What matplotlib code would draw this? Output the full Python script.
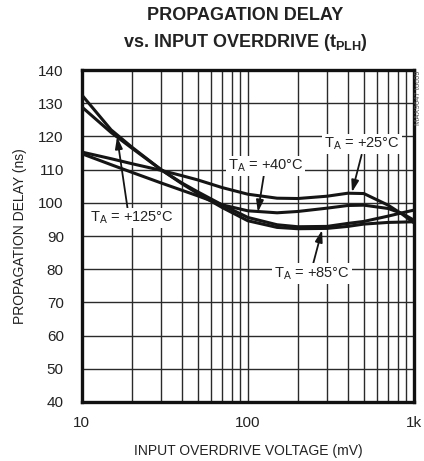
import matplotlib.pyplot as plt
from matplotlib.ticker import FixedLocator, NullFormatter

# overdrive voltage (mV)
overdrive = [10, 15, 20, 30, 40, 50, 70, 100, 150, 200, 300, 400, 500, 700, 850, 1000]

delay_25 = [115.3, 113.3, 111.8, 109.8, 108.2, 106.9, 104.6, 102.6, 101.4, 101.3,
            102.0, 102.9, 102.8, 99.3, 96.6, 94.0]
delay_40 = [114.8, 111.5, 109.2, 106.0, 103.8, 102.1, 99.4, 97.6, 97.0, 97.4,
            98.4, 99.2, 99.3, 98.3, 96.8, 94.8]
delay_125 = [132.5, 122.0, 116.8, 110.0, 106.0, 103.3, 99.4, 95.6, 93.4, 92.8,
             92.9, 93.8, 94.4, 96.0, 97.0, 97.8]
delay_85 = [128.9, 121.2, 116.5, 110.0, 105.8, 102.8, 98.6, 94.6, 92.6, 92.2,
            92.3, 92.9, 93.6, 94.1, 94.2, 94.3]

y_ticks = [40, 50, 60, 70, 80, 90, 100, 110, 120, 130, 140]
x_ticks = [10, 100, 1000]
x_tick_labels = ["10", "100", "1k"]

# label text, text position, arrow tail, arrow tip
labels = [
    ("+125°C", (20, 95.4), (18.9, 98.0), (16.3, 119.9)),
    ("+40°C", (128, 111.1), (126, 109.5), (115, 97.2)),
    ("+25°C", (485, 117.7), (485, 114.5), (424, 103.2)),
    ("+85°C", (243, 78.6), (247, 81.5), (280, 91.8)),
]

plt.rcParams["font.family"] = ["Liberation Sans", "DejaVu Sans"]
plt.rcParams["mathtext.fontset"] = "custom"
plt.rcParams["mathtext.rm"] = "Liberation Sans"
plt.rcParams["mathtext.bf"] = "Liberation Sans:bold"

fig = plt.figure(figsize=(4.24, 4.61), dpi=100)
ax = fig.add_axes([0.193, 0.128, 0.783, 0.720])

ax.set_xscale("log")
ax.set_xlim(10, 1000)
ax.set_ylim(40, 140)

minor = [m * d for d in (10, 100) for m in range(2, 10)]
ax.xaxis.set_major_locator(FixedLocator(x_ticks))
ax.xaxis.set_minor_locator(FixedLocator(minor))
ax.xaxis.set_minor_formatter(NullFormatter())
ax.set_xticklabels(x_tick_labels)
ax.set_yticks(y_ticks)
ax.tick_params(axis="y", length=0, labelsize=11, colors="#222222", pad=13)
ax.tick_params(axis="x", which="both", length=0, labelsize=11, colors="#222222", pad=10)

ax.grid(True, which="both", color="#2a2a2a", lw=1.0)
ax.set_axisbelow(True)
for s in ax.spines.values():
    s.set_linewidth(2.4)
    s.set_color("#111111")

for ys in (delay_25, delay_40, delay_125, delay_85):
    ax.plot(overdrive, ys, color="#151515", lw=2.2, solid_capstyle="butt", zorder=3)

for temp, (tx, ty), tail, tip in labels:
    ax.annotate("", xy=tip, xytext=tail,
                arrowprops=dict(arrowstyle="-|>,head_length=0.7,head_width=0.22",
                                color="#151515", lw=1.3, shrinkA=0, shrinkB=0), zorder=4)
    ax.text(tx, ty, r"T$_\mathrm{A}$ = " + temp, fontsize=10.5, ha="center", va="center",
            color="#222222", zorder=5,
            bbox=dict(facecolor="white", edgecolor="none", pad=1.5))

ax.set_xlabel("INPUT OVERDRIVE VOLTAGE (mV)", fontsize=10, color="#222222", labelpad=10)
ax.set_ylabel("PROPAGATION DELAY (ns)", fontsize=10, color="#222222", labelpad=8)

fig.text(0.578, 0.967, "PROPAGATION DELAY", ha="center", va="center",
         fontsize=13, fontweight="bold", color="#222222")
fig.text(0.578, 0.908, r"vs. INPUT OVERDRIVE (t$_\mathbf{PLH}$)", ha="center", va="center",
         fontsize=13, fontweight="bold", color="#222222")
fig.text(0.986, 0.848, "MAX9647 toc09", rotation=90, ha="center", va="top",
         fontsize=5.5, color="#555555")

fig.savefig("out.png", dpi=100)
